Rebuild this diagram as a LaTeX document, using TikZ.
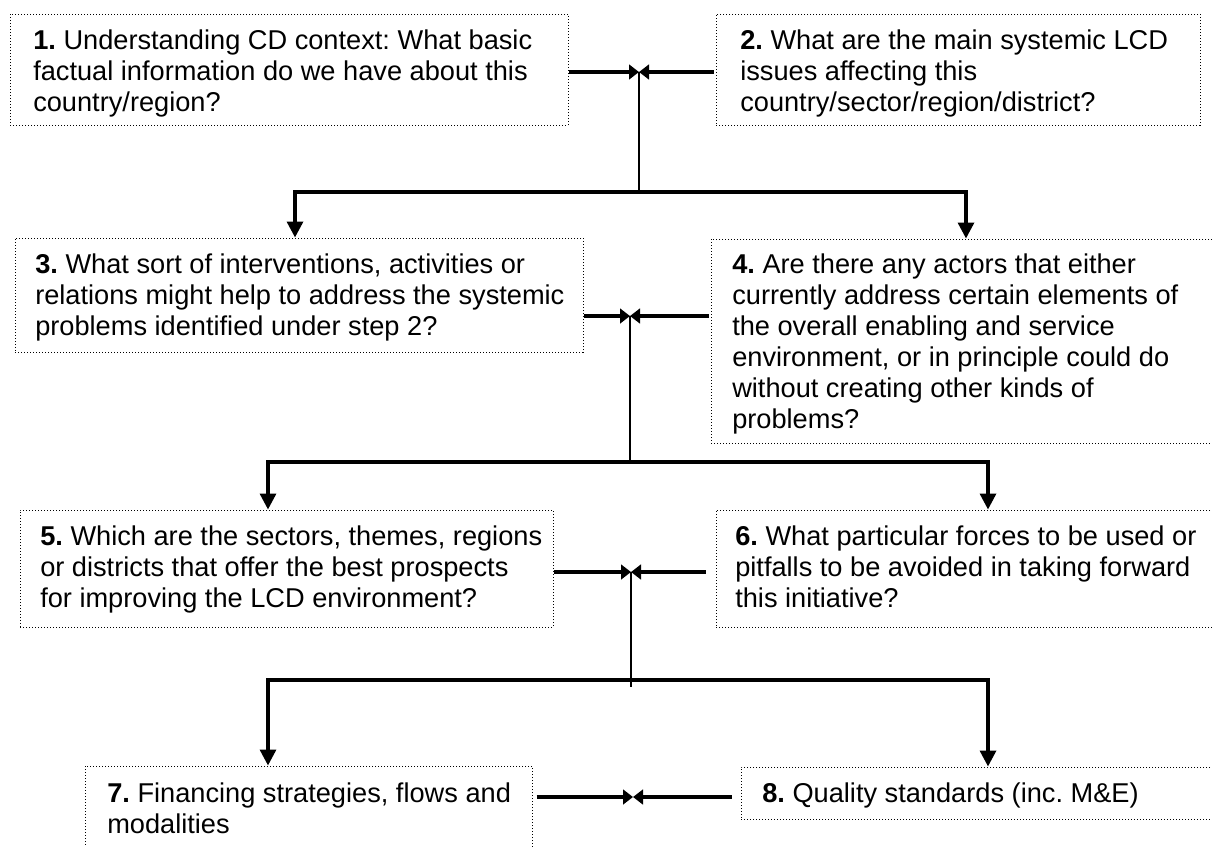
\documentclass[tikz,border=0pt]{standalone}
\usepackage{fontspec}
\setmainfont{Liberation Sans}
\usetikzlibrary{arrows.meta,fit}
\frenchspacing

\begin{document}
\begin{tikzpicture}[x=0.75pt,y=-0.75pt,
  box/.style={draw=black, line width=0.75pt, dash pattern=on 0.75pt off 1.5pt, inner sep=0pt},
  txt/.style={anchor=north west, inner sep=0pt, align=left, font=\fontsize{20.4}{23.25}\selectfont},
  link/.style={line width=2.5pt},
  stem/.style={line width=1.5pt},
  meet/.style={link, -{Triangle[length=7.5pt,width=11pt]}},
  drop/.style={link, {Triangle[length=12pt,width=12pt]}-{Triangle[length=12pt,width=12pt]}},
]
\useasboundingbox (0,0) rectangle (1212,846);
\clip (0,0) rectangle (1212,846);

% question boxes
\node[box, fit={(10,14) (568,125)}] (b1) {};
\node[box, fit={(716,14) (1200,125)}] (b2) {};
\node[box, fit={(15,238) (583,352)}] (b3) {};
\node[box, fit={(711,239) (1230,443)}] (b4) {};
\node[box, fit={(20,510) (553,627)}] (b5) {};
\node[box, fit={(716,510) (1230,627)}] (b6) {};
\node[box, fit={(85,766) (532,880)}] (b7) {};
\node[box, fit={(741,767) (1230,819)}] (b8) {};

% box texts
\node[txt] (t1) at (33,27.5) {\strut\textbf{1.} Understanding CD context: What basic\\factual information do we have about this\\country/region?};
\node[txt] (t2) at (740,27.5) {\strut\textbf{2.} What are the main systemic LCD\\issues affecting this\\country/sector/region/district?};
\node[txt] (t3) at (35,252) {\strut\textbf{3.} What sort of interventions, activities or\\relations might help to address the systemic\\problems identified under step 2?};
\node[txt] (t4) at (732,252) {\strut\textbf{4.} Are there any actors that either\\currently address certain elements of\\the overall enabling and service\\environment, or in principle could do\\without creating other kinds of\\problems?};
\node[txt] (t5) at (40,524) {\strut\textbf{5.} Which are the sectors, themes, regions\\or districts that offer the best prospects\\for improving the LCD environment?};
\node[txt] (t6) at (735,524) {\strut\textbf{6.} What particular forces to be used or\\pitfalls to be avoided in taking forward\\this initiative?};
\node[txt] (t7) at (107,780.5) {\strut\textbf{7.} Financing strategies, flows and\\modalities};
\node[txt] (t8) at (762,781) {\strut\textbf{8.} Quality standards (inc. M\&E)};

% junction and branch points
\coordinate (j1) at (639,72);
\coordinate (j2) at (630,316);
\coordinate (j3) at (631,572);
\coordinate (j4) at (633,797);
\coordinate (h1a) at (295,192);
\coordinate (h1b) at (966,192);
\coordinate (h2a) at (268,462);
\coordinate (h2b) at (988,462);
\coordinate (h3a) at (268,680);
\coordinate (h3b) at (988,680);
\coordinate (s3) at (631,687);

% step 1 + 2 -> 3, 4
\draw[meet] (b1.east |- j1) -- (j1);
\draw[meet, shorten <=1.5pt] (b2.west |- j1) -- (j1);
\draw[stem] (j1) -- (j1 |- h1a);
\draw[drop] (h1a |- b3.north) -- (h1a) -- (h1b) -- (h1b |- b4.north);

% step 3 + 4 -> 5, 6
\draw[meet] (b3.east |- j2) -- (j2);
\draw[meet, shorten <=1.5pt] (b4.west |- j2) -- (j2);
\draw[stem] (j2) -- (j2 |- h2a);
\draw[drop] (h2a |- b5.north) -- (h2a) -- (h2b) -- (h2b |- b6.north);

% step 5 + 6 -> 7, 8
\draw[meet] (b5.east |- j3) -- (j3);
\draw[meet, shorten <=7.5pt] (b6.west |- j3) -- (j3);
\draw[stem] (j3) -- (s3);
\draw[drop] (h3a |- b7.north) -- (h3a) -- (h3b) -- (h3b |- b8.north);

% step 7 <-> 8
\draw[meet, shorten <=3pt] (b7.east |- j4) -- (j4);
\draw[meet, shorten <=6.75pt] (b8.west |- j4) -- (j4);
\end{tikzpicture}
\end{document}
